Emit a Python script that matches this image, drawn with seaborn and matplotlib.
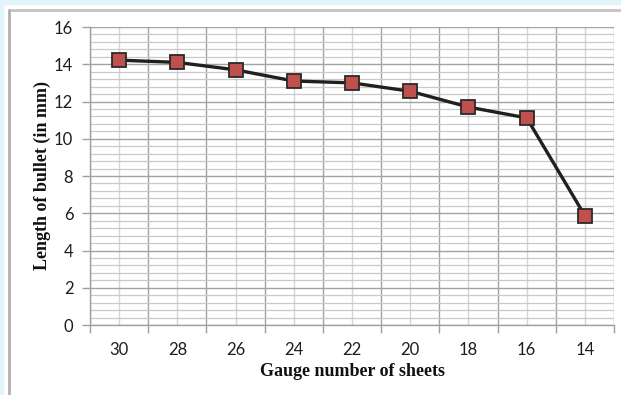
import numpy as np
import matplotlib
matplotlib.use("Agg")
import matplotlib.pyplot as plt
from matplotlib.patches import Rectangle
from matplotlib.lines import Line2D
from matplotlib.ticker import FixedLocator, MultipleLocator
import seaborn as sns

# data
gauges = ["30", "28", "26", "24", "22", "20", "18", "16", "14"]
lengths = [14.22, 14.1, 13.7, 13.1, 13.0, 12.55, 11.7, 11.12, 5.87]

sns.set_style("white")
plt.rcParams["font.family"] = ["Lato", "DejaVu Sans"]

fig = plt.figure(figsize=(6.21, 3.95), dpi=100)
W, H = 621, 395

# page decoration: light blue strip and gray frame lines
fig.patches.append(Rectangle((0, 1 - 4 / H), 1, 4 / H, transform=fig.transFigure,
                             color="#e2f3fb", zorder=0))
fig.patches.append(Rectangle((0, 0), 3 / W, 1, transform=fig.transFigure,
                             color="#e2f3fb", zorder=0))
fig.add_artist(Line2D([8.5 / W, 1], [1 - 9.5 / H, 1 - 9.5 / H], color="#c4c4c4", lw=2))
fig.add_artist(Line2D([8.5 / W, 8.5 / W], [0, 1 - 9.5 / H], color="#b0b0b0", lw=2))

ax = fig.add_axes([90 / W, 1 - 325 / H, 524 / W, 298 / H])

pos = np.arange(len(gauges))
sns.lineplot(x=pos, y=lengths, ax=ax, color="#231f1a", linewidth=2.4,
             marker="s", markersize=10, markerfacecolor="#c0504d",
             markeredgecolor="#2a2a2a", markeredgewidth=1.3, zorder=5)

ax.set_xlim(-0.5, len(gauges) - 0.5)
ax.set_ylim(0, 16)

# labels at category centres, tick marks and darker grid at boundaries
ax.xaxis.set_major_locator(FixedLocator(pos))
ax.set_xticklabels(gauges)
ax.xaxis.set_minor_locator(FixedLocator(np.arange(len(gauges) + 1) - 0.5))
ax.yaxis.set_major_locator(MultipleLocator(2))
ax.yaxis.set_minor_locator(MultipleLocator(0.4))

ax.tick_params(axis="x", which="major", length=0, pad=12, labelsize=12, labelcolor="#1e1e1e")
ax.tick_params(axis="x", which="minor", length=6, width=1, color="#a0a0a0", direction="out", bottom=True)
ax.tick_params(axis="y", which="major", length=6, width=1, color="#a0a0a0", direction="out",
               left=True, pad=6, labelsize=12, labelcolor="#1e1e1e")
ax.tick_params(axis="y", which="minor", length=0)

ax.grid(False)
ax.yaxis.grid(True, which="major", color="#a3a3a3", lw=1)
ax.yaxis.grid(True, which="minor", color="#c9c9c9", lw=0.9)
ax.xaxis.grid(True, which="minor", color="#a3a3a3", lw=1)
ax.xaxis.grid(True, which="major", color="#d4d4d4", lw=1)
ax.set_axisbelow(True)

for side in ["top", "right"]:
    ax.spines[side].set_visible(False)
for side in ["left", "bottom"]:
    ax.spines[side].set_color("#a0a0a0")
    ax.spines[side].set_linewidth(1)

ax.set_xlabel("Gauge number of sheets", fontsize=13, fontweight="bold",
              family="Liberation Serif", color="#111111", labelpad=4)
ax.set_ylabel("Length of bullet (in mm)", fontsize=13, fontweight="bold",
              family="Liberation Serif", color="#111111")
ax.yaxis.set_label_coords((51 - 90) / 524, 0.5)

fig.savefig("out.png", dpi=100)
